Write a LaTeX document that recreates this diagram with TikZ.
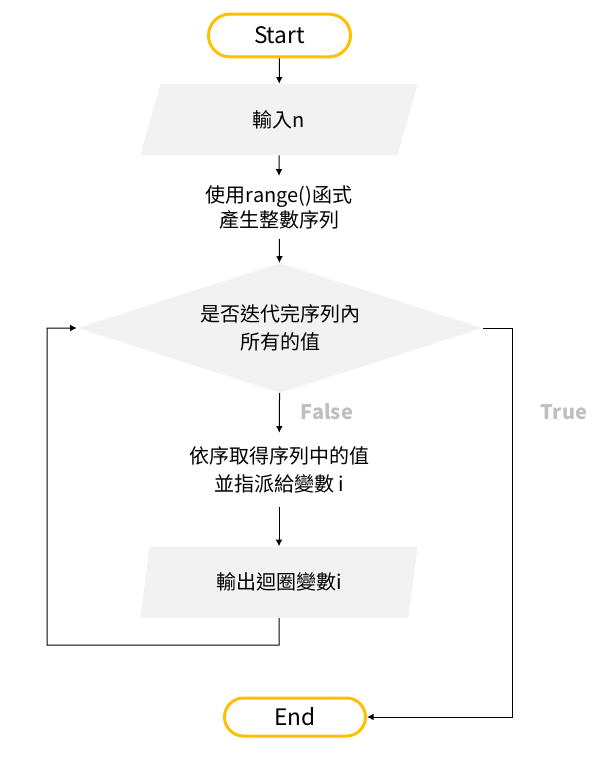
\documentclass[tikz,border=0pt]{standalone}
\usepackage{fontspec}
\setmainfont{Noto Sans CJK TC}
\usetikzlibrary{shapes.geometric,shapes.misc,arrows.meta}
\definecolor{termline}{HTML}{FFC000}
\definecolor{boxfill}{HTML}{F2F2F2}
\definecolor{labelgray}{HTML}{BFBFBF}
\begin{document}
\begin{tikzpicture}[x=0.75pt,y=-0.75pt,
  every node/.style={font=\fontsize{15pt}{19pt}\selectfont, inner sep=0pt},
  terminal/.style={rounded rectangle, draw=termline, line width=2.25pt, fill=white,
    font=\fontsize{17pt}{20pt}\selectfont},
  iobox/.style={trapezium, trapezium left angle=76.5, trapezium right angle=103.5,
    trapezium stretches=true, fill=boxfill, minimum width=208.5pt, minimum height=53.25pt},
  decision/.style={diamond, aspect=3.12, fill=boxfill, minimum width=304.5pt, minimum height=97.5pt,
    align=center, font=\fontsize{15pt}{20.5pt}\selectfont},
  stepbox/.style={align=center, minimum width=150pt},
  flow/.style={line width=0.75pt, -{Latex[length=5pt,width=5pt]}},
  branchlabel/.style={text=labelgray, font=\fontsize{15pt}{18pt}\selectfont\bfseries}
]
\useasboundingbox (0,0) rectangle (600,759);

\node[terminal, minimum width=106.5pt, minimum height=32pt] (start) at (279.5,35.5) {Start};
\node[iobox] (input) at (279,119.5) {輸入n};
\node[stepbox, minimum height=47pt] (range) at (279,207.5) {使用range()函式\\產生整數序列};
\node[decision] (check) at (280,328) {是否迭代完序列內\\所有的值};
\node[stepbox, minimum height=55.5pt, font=\fontsize{15pt}{20.5pt}\selectfont] (assign) at (279,470) {依序取得序列中的值\\並指派給變數 i};
\node[iobox] (output) at (279,582) {輸出迴圈變數i};
\node[terminal, minimum width=105.75pt, minimum height=28.5pt] (end) at (295,717) {End};

\node[branchlabel] (falselbl) at (327,412) {False};
\node[branchlabel] (truelbl) at (564,412) {True};

\coordinate (loopbot) at (279,645);
\coordinate (loopleft) at (47,645);
\coordinate (truecorner) at (512,328);

\draw[flow] (start) -- (input);
\draw[flow] (input) -- (range);
\draw[flow] (range) -- (check);
\draw[flow] (check) -- (assign);
\draw[flow] (assign) -- (output);
\draw[flow] (output.south) -- (loopbot) -- (loopleft) |- (check.west);
\draw[flow] (check.east) -- (truecorner) |- (end.east);
\end{tikzpicture}
\end{document}
